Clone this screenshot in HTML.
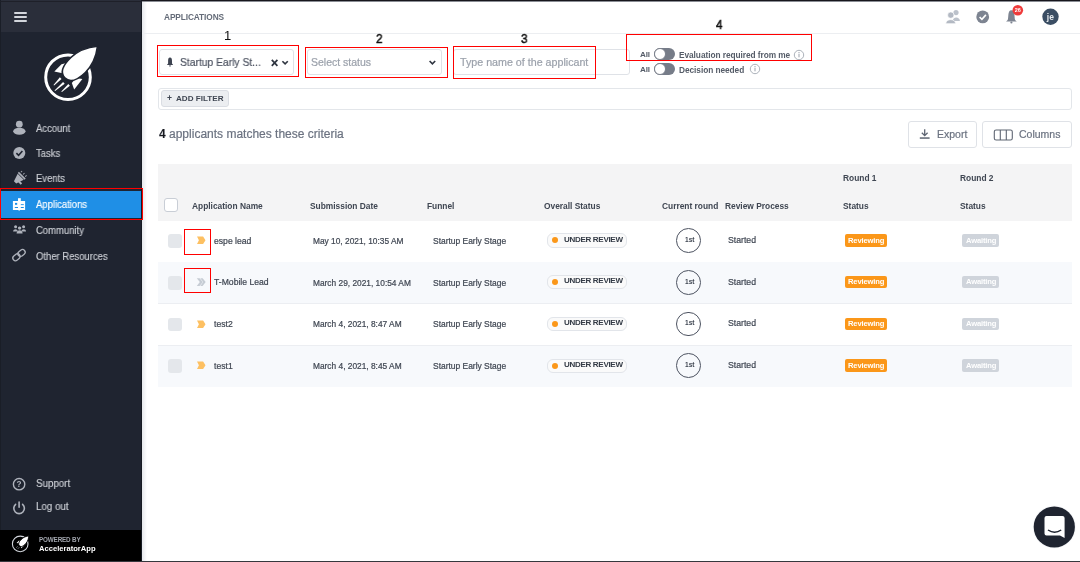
<!DOCTYPE html>
<html><head><meta charset="utf-8"><style>
html,body{margin:0;padding:0;width:1080px;height:562px;overflow:hidden;background:#fff;}
body{position:relative;font-family:"Liberation Sans",sans-serif;}
.t{position:absolute;white-space:nowrap;line-height:1;will-change:transform;}
.r{position:absolute;box-sizing:border-box;}
svg.r{overflow:visible;will-change:transform;}
</style></head><body>
<div class="r" style="left:0px;top:0px;width:142px;height:562px;background:#1f2430;"></div>
<div class="r" style="left:0px;top:0px;width:142px;height:31.5px;background:#2a2e3a;"></div>
<div class="r" style="left:0px;top:0px;width:1px;height:530px;background:#1a1e27;"></div>
<div class="r" style="left:13.5px;top:12px;width:13px;height:2px;background:#d3d6dc;border-radius:1px;"></div>
<div class="r" style="left:13.5px;top:16px;width:13px;height:2px;background:#d3d6dc;border-radius:1px;"></div>
<div class="r" style="left:13.5px;top:20px;width:13px;height:2px;background:#d3d6dc;border-radius:1px;"></div>
<svg class="r" style="left:40px;top:40px" width="64" height="64" viewBox="40 40 64 64">
<circle cx="68" cy="77.2" r="22.3" fill="none" stroke="#fff" stroke-width="3"/>
<path d="M54.3 71.4 L61.5 64.2 L67.5 62.8 L66 74 L62.5 73.3 Z" fill="#fff"/>
<path d="M71.8 82.9 L74.2 89.6 L82.4 79 L76 78 Z" fill="#fff"/>
<g transform="translate(81 62.2) rotate(-44)">
<path d="M-22.5 0 C-22.5 -7.2 -15 -10.4 -4 -10.4 C8 -10.4 16.5 -5.2 23 0 C16.5 5.2 8 10.4 -4 10.4 C-15 10.4 -22.5 7.2 -22.5 0 Z" fill="#fff" stroke="#1f2430" stroke-width="1.6"/>
</g>
<path d="M59.9 77.3 L53.5 84.9 L54.1 85.4 L61.5 78.9 Z" fill="#fff"/>
<path d="M63.1 82.1 L54.5 90.4 L55.1 90.9 L64.7 83.7 Z" fill="#fff"/>
<path d="M68.3 84.1 L61.3 91.6 L61.9 92.1 L69.9 85.7 Z" fill="#fff"/>
</svg>
<div class="r" style="left:1px;top:190.8px;width:140.4px;height:26.8px;background:#1f8fe6;"></div>
<div class="t" style="left:36.00px;top:123.67px;font-size:10.2px;color:#cdd0d6;-webkit-text-stroke:0.15px #cdd0d6;transform:scaleX(0.93);transform-origin:0 0;">Account</div>
<div class="t" style="left:36.00px;top:149.07px;font-size:10.2px;color:#cdd0d6;-webkit-text-stroke:0.15px #cdd0d6;transform:scaleX(0.93);transform-origin:0 0;">Tasks</div>
<div class="t" style="left:36.00px;top:174.17px;font-size:10.2px;color:#cdd0d6;-webkit-text-stroke:0.15px #cdd0d6;transform:scaleX(0.93);transform-origin:0 0;">Events</div>
<div class="t" style="left:36.00px;top:199.77px;font-size:10.2px;color:#ffffff;-webkit-text-stroke:0.15px #ffffff;transform:scaleX(0.93);transform-origin:0 0;">Applications</div>
<div class="t" style="left:36.00px;top:225.67px;font-size:10.2px;color:#cdd0d6;-webkit-text-stroke:0.15px #cdd0d6;transform:scaleX(0.93);transform-origin:0 0;">Community</div>
<div class="t" style="left:36.00px;top:252.07px;font-size:10.2px;color:#cdd0d6;-webkit-text-stroke:0.15px #cdd0d6;transform:scaleX(0.93);transform-origin:0 0;">Other Resources</div>
<svg class="r" style="left:0;top:115px" width="40" height="160" viewBox="0 115 40 160">
<circle cx="19.3" cy="124.2" r="3.4" fill="#aeb2bb"/>
<ellipse cx="19.35" cy="131.3" rx="6.2" ry="3.5" fill="#aeb2bb"/>
<circle cx="19.3" cy="153" r="6" fill="#aeb2bb"/>
<path d="M16.4 153.1 L18.6 155.3 L22.4 151" stroke="#1f2430" stroke-width="1.6" fill="none"/>
<g transform="translate(19.3 178.2) rotate(-45)" fill="#aeb2bb">
<path d="M-6 -1.6 L2 -4.3 L2 4.3 L-6 1.6 Z"/>
<rect x="2.7" y="-4.8" width="1.5" height="9.6"/>
<path d="M-3.6 1.5 L-1.6 1.5 L-1.6 5.6 L-3.6 5.6 Z"/>
<rect x="5.3" y="-3.6" width="1.8" height="0.9"/>
<rect x="5.3" y="-0.45" width="2.1" height="0.9"/>
<rect x="5.3" y="2.7" width="1.8" height="0.9"/>
</g>
<rect x="12.9" y="201" width="12.2" height="9" fill="#fff"/>
<rect x="18" y="198.2" width="2.8" height="2.8" fill="#fff"/>
<rect x="15" y="202.9" width="2.2" height="1.9" fill="#1f8fe6"/>
<rect x="14.8" y="207" width="3.2" height="1" fill="#1f8fe6"/>
<rect x="20.8" y="204.2" width="3" height="0.9" fill="#1f8fe6"/>
<rect x="20.8" y="207" width="3" height="1" fill="#1f8fe6"/>
<rect x="18.7" y="210" width="0.8" height="1" fill="#fff"/>
<circle cx="15.6" cy="226.8" r="1.5" fill="#aeb2bb"/>
<circle cx="23.6" cy="226.8" r="1.5" fill="#aeb2bb"/>
<circle cx="19.6" cy="228.1" r="1.7" fill="#aeb2bb"/>
<path d="M13.1 231.6 C13.1 228.3 17.8 228.3 17.8 231.6 Z M21.4 231.6 C21.4 228.3 26.1 228.3 26.1 231.6 Z" fill="#aeb2bb"/>
<path d="M16.6 233.4 C16.6 229.2 22.6 229.2 22.6 233.4 Z" fill="#aeb2bb"/>
<g transform="translate(19 255.1) rotate(-40)" fill="none" stroke="#aeb2bb" stroke-width="1.3">
<rect x="-7.2" y="-2.7" width="7.8" height="5.4" rx="2.7"/>
<rect x="-0.6" y="-2.7" width="7.8" height="5.4" rx="2.7"/>
</g>
</svg>
<div class="t" style="left:36.00px;top:478.80px;font-size:10.4px;color:#cdd0d6;-webkit-text-stroke:0.15px #cdd0d6;transform:scaleX(0.94);transform-origin:0 0;">Support</div>
<div class="t" style="left:36.00px;top:501.70px;font-size:10.4px;color:#cdd0d6;-webkit-text-stroke:0.15px #cdd0d6;transform:scaleX(0.94);transform-origin:0 0;">Log out</div>
<svg class="r" style="left:0;top:470px" width="40" height="50" viewBox="0 470 40 50">
<circle cx="19.1" cy="484.2" r="5.7" fill="none" stroke="#aeb2bb" stroke-width="1.4"/>
<text x="19.1" y="487.3" font-family="Liberation Sans" font-size="8.2" font-weight="700" fill="#aeb2bb" text-anchor="middle">?</text>
<path d="M15.6 504.3 A5.3 5.3 0 1 0 22.6 504.3" fill="none" stroke="#aeb2bb" stroke-width="1.6" stroke-linecap="round"/>
<path d="M19.1 502 L19.1 507.2" stroke="#aeb2bb" stroke-width="1.6" stroke-linecap="round"/>
</svg>
<div class="r" style="left:0px;top:529.7px;width:142px;height:31px;background:#000;"></div>
<svg class="r" style="left:8px;top:532px" width="26" height="24" viewBox="8 532 26 24">
<circle cx="20.2" cy="543.9" r="7.8" fill="none" stroke="#d3d6dc" stroke-width="1.1"/>
<path d="M16.6 542.9 L19.3 540.3 L19.8 543.6 Z" fill="#fff"/>
<path d="M21.2 548.3 L24.2 545.6 L20.9 545.2 Z" fill="#fff"/>
<g transform="translate(24.1 540.9) rotate(-47) scale(0.3)">
<path d="M-22.5 0 C-22.5 -7.2 -15 -10.4 -4 -10.4 C8 -10.4 16.5 -5.2 23 0 C16.5 5.2 8 10.4 -4 10.4 C-15 10.4 -22.5 7.2 -22.5 0 Z" fill="#fff" stroke="#000" stroke-width="3"/>
</g>
<path d="M17.5 546.4 L16.4 547.6 M19.2 547.4 L17.9 548.7" stroke="#aeb2b9" stroke-width="0.8"/>
</svg>
<div class="t" style="left:39.30px;top:536.97px;font-size:6.3px;color:#a0a4ac;font-weight:700;letter-spacing:-0.15px;">POWERED BY</div>
<div class="t" style="left:39.30px;top:545.37px;font-size:7.6px;color:#ffffff;font-weight:700;">AcceleratorApp</div>
<div class="r" style="left:141.4px;top:0px;width:0.8px;height:562px;background:#161a22;"></div>
<div class="r" style="left:142.2px;top:2px;width:937.8px;height:560px;background:#fff;"></div>
<div class="r" style="left:142.2px;top:2px;width:5px;height:560px;background:linear-gradient(90deg,#e6e8ec,#fff);"></div>
<div class="r" style="left:0px;top:1px;width:142px;height:1px;background:#1e2029;"></div>
<div class="r" style="left:142px;top:0px;width:938px;height:1px;background:#17161d;"></div>
<div class="r" style="left:142px;top:1px;width:938px;height:1px;background:#8a8d94;"></div>
<div class="r" style="left:142.2px;top:32.6px;width:937.8px;height:1px;background:#eceef1;"></div>
<div class="t" style="left:163.60px;top:12.57px;font-size:8.3px;color:#646b78;font-weight:700;letter-spacing:-0.1px;">APPLICATIONS</div>
<svg class="r" style="left:940px;top:2px" width="130" height="30" viewBox="940 2 130 30">
<circle cx="956" cy="12.6" r="2.6" fill="#bcc2cb"/>
<path d="M952.6 20.9 C952.6 16.2 959.9 16.2 959.9 20.9 Z" fill="#bcc2cb"/>
<circle cx="950.8" cy="15.1" r="3.2" fill="#b3b9c3" stroke="#fff" stroke-width="0.7"/>
<path d="M945.8 23.7 C945.8 18.3 955.6 18.3 955.6 23.7 Z" fill="#b3b9c3" stroke="#fff" stroke-width="0.7"/>
<circle cx="982.7" cy="16.9" r="6.4" fill="#7d8491"/>
<path d="M979.6 17 L981.9 19.3 L985.9 14.9" stroke="#fff" stroke-width="1.6" fill="none"/>
<path d="M1011.4 10.2 C1009.3 10.2 1008.6 12.2 1008.4 14.6 L1008 19 C1007.8 20.3 1006.9 20.9 1006 21.6 L1016.8 21.6 C1015.9 20.9 1015 20.3 1014.8 19 L1014.4 14.6 C1014.2 12.2 1013.5 10.2 1011.4 10.2 Z" fill="#7d8491"/>
<circle cx="1011.4" cy="22.5" r="1.1" fill="#7d8491"/>
<circle cx="1017.8" cy="10.2" r="5.3" fill="#ef3b3b"/>
<text x="1017.8" y="12.3" font-family="Liberation Sans" font-size="5.5" font-weight="700" fill="#fff" text-anchor="middle">26</text>
<circle cx="1050.5" cy="16.7" r="8.2" fill="#3b4e64"/>
<text x="1050.4" y="19.8" font-family="Liberation Sans" font-size="8.5" font-weight="700" fill="#e8ecf0" text-anchor="middle">je</text>
</svg>
<div class="r" style="left:158.7px;top:48.8px;width:135px;height:26.4px;border:1px solid #dfe2e7;border-radius:3px;background:#fff;"></div>
<div class="r" style="left:306.9px;top:49.4px;width:134.8px;height:26px;border:1px solid #dfe2e7;border-radius:3px;background:#fff;"></div>
<div class="r" style="left:453px;top:49px;width:176.8px;height:26.3px;border:1px solid #dfe2e7;border-radius:3px;background:#fff;"></div>
<div class="t" style="left:180.00px;top:57.39px;font-size:11px;color:#4d5361;-webkit-text-stroke:0.2px #4d5361;transform:scaleX(0.937);transform-origin:0 0;">Startup Early St...</div>
<div class="t" style="left:310.60px;top:56.81px;font-size:10.5px;color:#9ba1ab;-webkit-text-stroke:0.2px #9ba1ab;">Select status</div>
<div class="t" style="left:459.80px;top:57.04px;font-size:10.7px;color:#9ba1ab;-webkit-text-stroke:0.2px #9ba1ab;">Type name of the applicant</div>
<svg class="r" style="left:160px;top:50px" width="290" height="24" viewBox="160 50 290 24">
<path d="M170 57.6 C168.4 57.6 168.1 59.3 168.1 61 L168.1 63.6 L166.9 64.9 L173.2 64.9 L172 63.6 L172 61 C172 59.3 171.6 57.6 170 57.6 Z" fill="#3d4350"/>
<rect x="169.3" y="65.3" width="1.4" height="1.2" fill="#3d4350"/>
<path d="M271.8 59.8 L277.4 65.8 M277.4 59.8 L271.8 65.8" stroke="#2f3540" stroke-width="1.7"/>
<path d="M282.4 61.2 L285.1 63.9 L287.8 61.2" stroke="#2f3540" stroke-width="1.6" fill="none"/>
<path d="M429.6 61 L432.4 63.8 L435.2 61" stroke="#2f3540" stroke-width="1.6" fill="none"/>
</svg>
<div class="t" style="left:640.40px;top:51.44px;font-size:8.1px;color:#555c68;font-weight:700;letter-spacing:-0.2px;">All</div>
<div class="r" style="left:654.3px;top:48.3px;width:20.4px;height:11.8px;background:#767c88;border-radius:6px;"></div>
<div class="r" style="left:654.3px;top:48.3px;width:11.8px;height:11.8px;background:#fff;border:1px solid #767c88;border-radius:50%;"></div>
<div class="t" style="left:679.30px;top:51.27px;font-size:8.3px;color:#555c68;font-weight:700;letter-spacing:-0.05px;">Evaluation required from me</div>
<svg class="r" style="left:793.3px;top:48.8px" width="12" height="12" viewBox="-6 -6 12 12"><circle r="4.7" fill="none" stroke="#a3a9b2" stroke-width="0.9"/><rect x="-0.5" y="-1.3" width="1" height="3.6" fill="#9ba1ab"/><rect x="-0.5" y="-3" width="1" height="1" fill="#9ba1ab"/></svg>
<div class="t" style="left:640.40px;top:65.84px;font-size:8.1px;color:#555c68;font-weight:700;letter-spacing:-0.2px;">All</div>
<div class="r" style="left:654.3px;top:63.1px;width:20.4px;height:11.8px;background:#767c88;border-radius:6px;"></div>
<div class="r" style="left:654.3px;top:63.1px;width:11.8px;height:11.8px;background:#fff;border:1px solid #767c88;border-radius:50%;"></div>
<div class="t" style="left:679.30px;top:65.67px;font-size:8.3px;color:#555c68;font-weight:700;letter-spacing:-0.05px;">Decision needed</div>
<svg class="r" style="left:749.2px;top:63.2px" width="12" height="12" viewBox="-6 -6 12 12"><circle r="4.7" fill="none" stroke="#a3a9b2" stroke-width="0.9"/><rect x="-0.5" y="-1.3" width="1" height="3.6" fill="#9ba1ab"/><rect x="-0.5" y="-3" width="1" height="1" fill="#9ba1ab"/></svg>
<div class="r" style="left:158.1px;top:87.7px;width:913.6px;height:22px;border:1px solid #e3e6ea;border-radius:3px;"></div>
<div class="r" style="left:161px;top:90.4px;width:67.5px;height:16.3px;background:#eceef1;border:1px solid #dadde3;border-radius:3px;"></div>
<div class="t" style="left:166.60px;top:94.40px;font-size:8.5px;color:#3f4652;font-weight:700;">+</div>
<div class="t" style="left:175.90px;top:94.74px;font-size:8.1px;color:#3f4652;font-weight:700;">ADD FILTER</div>
<div class="t" style="left:158.80px;top:128.24px;font-size:12px;color:#6b7280;-webkit-text-stroke:0.2px #6b7280;"><b style="color:#15171c">4</b> applicants matches these criteria</div>
<div class="r" style="left:908.3px;top:121.3px;width:68.4px;height:26.7px;border:1px solid #dfe2e7;border-radius:3px;"></div>
<div class="r" style="left:982px;top:121.3px;width:89.7px;height:26.7px;border:1px solid #dfe2e7;border-radius:3px;"></div>
<div class="t" style="left:936.70px;top:129.11px;font-size:10.5px;color:#6b7280;-webkit-text-stroke:0.2px #6b7280;">Export</div>
<div class="t" style="left:1018.70px;top:129.11px;font-size:10.5px;color:#6b7280;-webkit-text-stroke:0.2px #6b7280;">Columns</div>
<svg class="r" style="left:915px;top:125px" width="100" height="20" viewBox="915 125 100 20">
<path d="M924.7 129.2 L924.7 135.5 M921.8 132.8 L924.7 135.7 L927.6 132.8" stroke="#5f6673" stroke-width="1.3" fill="none"/>
<rect x="919.8" y="137.3" width="9.8" height="1.5" fill="#5f6673"/>
<rect x="994.3" y="130" width="18" height="10" rx="1.8" fill="none" stroke="#5f6673" stroke-width="1.1"/>
<path d="M1000.3 130 L1000.3 140 M1006.3 130 L1006.3 140" stroke="#5f6673" stroke-width="1.1"/>
</svg>
<div class="r" style="left:157.8px;top:163.6px;width:914.2px;height:57px;background:#f4f4f5;"></div>
<div class="r" style="left:163.9px;top:198px;width:14px;height:13.5px;background:#fff;border:1px solid #c9ced6;border-radius:3px;"></div>
<div class="t" style="left:192.20px;top:201.59px;font-size:8.4px;color:#3f4652;font-weight:700;">Application Name</div>
<div class="t" style="left:309.60px;top:201.59px;font-size:8.4px;color:#3f4652;font-weight:700;">Submission Date</div>
<div class="t" style="left:427.00px;top:201.59px;font-size:8.4px;color:#3f4652;font-weight:700;">Funnel</div>
<div class="t" style="left:544.40px;top:201.59px;font-size:8.4px;color:#3f4652;font-weight:700;">Overall Status</div>
<div class="t" style="left:662.00px;top:201.59px;font-size:8.4px;color:#3f4652;font-weight:700;">Current round</div>
<div class="t" style="left:724.80px;top:201.59px;font-size:8.4px;color:#3f4652;font-weight:700;">Review Process</div>
<div class="t" style="left:842.70px;top:201.59px;font-size:8.4px;color:#3f4652;font-weight:700;">Status</div>
<div class="t" style="left:959.70px;top:201.59px;font-size:8.4px;color:#3f4652;font-weight:700;">Status</div>
<div class="t" style="left:842.70px;top:173.79px;font-size:8.4px;color:#3f4652;font-weight:700;">Round 1</div>
<div class="t" style="left:959.70px;top:173.79px;font-size:8.4px;color:#3f4652;font-weight:700;">Round 2</div>
<div class="r" style="left:157.8px;top:261.7px;width:914.2px;height:1px;background:#eceef2;"></div>
<div class="r" style="left:168.1px;top:234.2px;width:13.8px;height:13.8px;background:#e4e7eb;border-radius:3px;"></div>
<svg class="r" style="left:196px;top:236.10px" width="10" height="9" viewBox="196 0 10 9"><path d="M197 0.4 L203.1 0.4 L205.5 4.2 L203.1 8 L197 8 L198.9 4.2 Z" fill="#fdc062"/></svg>
<div class="t" style="left:213.50px;top:236.78px;font-size:8.65px;color:#3f4652;-webkit-text-stroke:0.2px #3f4652;">espe lead</div>
<div class="t" style="left:312.60px;top:237.03px;font-size:8.35px;color:#3f4652;-webkit-text-stroke:0.2px #3f4652;">May 10, 2021, 10:35 AM</div>
<div class="t" style="left:432.90px;top:236.95px;font-size:8.45px;color:#3f4652;-webkit-text-stroke:0.2px #3f4652;">Startup Early Stage</div>
<div class="r" style="left:547.2px;top:233.4px;width:80.3px;height:14.2px;background:#fafafa;border:1px solid #e2e5ea;border-radius:6px;"></div>
<div class="r" style="left:552.1px;top:237.4px;width:6px;height:6px;background:#fb9719;border-radius:50%;"></div>
<div class="t" style="left:563.90px;top:235.73px;font-size:8px;color:#333a45;font-weight:700;letter-spacing:-0.3px;">UNDER REVIEW</div>
<div class="r" style="left:676.3px;top:228.2px;width:24.9px;height:24.9px;border:1.2px solid #4d5361;border-radius:50%;"></div>
<div class="t" style="left:684.60px;top:236.81px;font-size:6.6px;color:#3f4652;font-weight:700;">1st</div>
<div class="t" style="left:727.70px;top:235.84px;font-size:8.7px;color:#3f4652;-webkit-text-stroke:0.2px #3f4652;">Started</div>
<div class="r" style="left:845px;top:234.29999999999998px;width:42.3px;height:12.3px;background:#fb9719;border-radius:2px;"></div>
<div class="t" style="left:848.20px;top:236.67px;font-size:7.6px;color:#fff;font-weight:700;letter-spacing:-0.15px;">Reviewing</div>
<div class="r" style="left:962.3px;top:234.29999999999998px;width:36.8px;height:12.3px;background:#cfd4db;border-radius:2px;"></div>
<div class="t" style="left:965.50px;top:236.67px;font-size:7.6px;color:#fff;font-weight:700;letter-spacing:-0.15px;">Awaiting</div>
<div class="r" style="left:157.8px;top:262.3px;width:914.2px;height:41.7px;background:#f7f9fc;"></div>
<div class="r" style="left:157.8px;top:303.4px;width:914.2px;height:1px;background:#eceef2;"></div>
<div class="r" style="left:168.1px;top:275.90000000000003px;width:13.8px;height:13.8px;background:#e4e7eb;border-radius:3px;"></div>
<svg class="r" style="left:196px;top:278.20px" width="10" height="9" viewBox="0 0 10 9"><path d="M0.8 0.3 L3.6 0.3 L6.8 4.1 L3.6 7.9 L0.8 7.9 L3.8 4.1 Z M4.3 0.3 L6.6 0.3 L9.7 4.1 L6.6 7.9 L4.3 7.9 L7.2 4.1 Z" fill="#c6ccd4"/></svg>
<div class="t" style="left:213.50px;top:278.48px;font-size:8.65px;color:#3f4652;-webkit-text-stroke:0.2px #3f4652;">T-Mobile Lead</div>
<div class="t" style="left:312.60px;top:278.73px;font-size:8.35px;color:#3f4652;-webkit-text-stroke:0.2px #3f4652;">March 29, 2021, 10:54 AM</div>
<div class="t" style="left:432.90px;top:278.65px;font-size:8.45px;color:#3f4652;-webkit-text-stroke:0.2px #3f4652;">Startup Early Stage</div>
<div class="r" style="left:547.2px;top:275.1px;width:80.3px;height:14.2px;background:#fafafa;border:1px solid #e2e5ea;border-radius:6px;"></div>
<div class="r" style="left:552.1px;top:279.1px;width:6px;height:6px;background:#fb9719;border-radius:50%;"></div>
<div class="t" style="left:563.90px;top:277.43px;font-size:8px;color:#333a45;font-weight:700;letter-spacing:-0.3px;">UNDER REVIEW</div>
<div class="r" style="left:676.3px;top:269.90000000000003px;width:24.9px;height:24.9px;border:1.2px solid #4d5361;border-radius:50%;"></div>
<div class="t" style="left:684.60px;top:278.51px;font-size:6.6px;color:#3f4652;font-weight:700;">1st</div>
<div class="t" style="left:727.70px;top:277.54px;font-size:8.7px;color:#3f4652;-webkit-text-stroke:0.2px #3f4652;">Started</div>
<div class="r" style="left:845px;top:276.0px;width:42.3px;height:12.3px;background:#fb9719;border-radius:2px;"></div>
<div class="t" style="left:848.20px;top:278.37px;font-size:7.6px;color:#fff;font-weight:700;letter-spacing:-0.15px;">Reviewing</div>
<div class="r" style="left:962.3px;top:276.0px;width:36.8px;height:12.3px;background:#cfd4db;border-radius:2px;"></div>
<div class="t" style="left:965.50px;top:278.37px;font-size:7.6px;color:#fff;font-weight:700;letter-spacing:-0.15px;">Awaiting</div>
<div class="r" style="left:157.8px;top:345.09999999999997px;width:914.2px;height:1px;background:#eceef2;"></div>
<div class="r" style="left:168.1px;top:317.6px;width:13.8px;height:13.8px;background:#e4e7eb;border-radius:3px;"></div>
<svg class="r" style="left:196px;top:319.50px" width="10" height="9" viewBox="196 0 10 9"><path d="M197 0.4 L203.1 0.4 L205.5 4.2 L203.1 8 L197 8 L198.9 4.2 Z" fill="#fdc062"/></svg>
<div class="t" style="left:213.50px;top:320.18px;font-size:8.65px;color:#3f4652;-webkit-text-stroke:0.2px #3f4652;">test2</div>
<div class="t" style="left:312.60px;top:320.43px;font-size:8.35px;color:#3f4652;-webkit-text-stroke:0.2px #3f4652;">March 4, 2021, 8:47 AM</div>
<div class="t" style="left:432.90px;top:320.35px;font-size:8.45px;color:#3f4652;-webkit-text-stroke:0.2px #3f4652;">Startup Early Stage</div>
<div class="r" style="left:547.2px;top:316.8px;width:80.3px;height:14.2px;background:#fafafa;border:1px solid #e2e5ea;border-radius:6px;"></div>
<div class="r" style="left:552.1px;top:320.8px;width:6px;height:6px;background:#fb9719;border-radius:50%;"></div>
<div class="t" style="left:563.90px;top:319.13px;font-size:8px;color:#333a45;font-weight:700;letter-spacing:-0.3px;">UNDER REVIEW</div>
<div class="r" style="left:676.3px;top:311.6px;width:24.9px;height:24.9px;border:1.2px solid #4d5361;border-radius:50%;"></div>
<div class="t" style="left:684.60px;top:320.21px;font-size:6.6px;color:#3f4652;font-weight:700;">1st</div>
<div class="t" style="left:727.70px;top:319.24px;font-size:8.7px;color:#3f4652;-webkit-text-stroke:0.2px #3f4652;">Started</div>
<div class="r" style="left:845px;top:317.7px;width:42.3px;height:12.3px;background:#fb9719;border-radius:2px;"></div>
<div class="t" style="left:848.20px;top:320.07px;font-size:7.6px;color:#fff;font-weight:700;letter-spacing:-0.15px;">Reviewing</div>
<div class="r" style="left:962.3px;top:317.7px;width:36.8px;height:12.3px;background:#cfd4db;border-radius:2px;"></div>
<div class="t" style="left:965.50px;top:320.07px;font-size:7.6px;color:#fff;font-weight:700;letter-spacing:-0.15px;">Awaiting</div>
<div class="r" style="left:157.8px;top:345.7px;width:914.2px;height:41.7px;background:#f7f9fc;"></div>
<div class="r" style="left:168.1px;top:359.3px;width:13.8px;height:13.8px;background:#e4e7eb;border-radius:3px;"></div>
<svg class="r" style="left:196px;top:361.20px" width="10" height="9" viewBox="196 0 10 9"><path d="M197 0.4 L203.1 0.4 L205.5 4.2 L203.1 8 L197 8 L198.9 4.2 Z" fill="#fdc062"/></svg>
<div class="t" style="left:213.50px;top:361.88px;font-size:8.65px;color:#3f4652;-webkit-text-stroke:0.2px #3f4652;">test1</div>
<div class="t" style="left:312.60px;top:362.13px;font-size:8.35px;color:#3f4652;-webkit-text-stroke:0.2px #3f4652;">March 4, 2021, 8:45 AM</div>
<div class="t" style="left:432.90px;top:362.05px;font-size:8.45px;color:#3f4652;-webkit-text-stroke:0.2px #3f4652;">Startup Early Stage</div>
<div class="r" style="left:547.2px;top:358.5px;width:80.3px;height:14.2px;background:#fafafa;border:1px solid #e2e5ea;border-radius:6px;"></div>
<div class="r" style="left:552.1px;top:362.5px;width:6px;height:6px;background:#fb9719;border-radius:50%;"></div>
<div class="t" style="left:563.90px;top:360.83px;font-size:8px;color:#333a45;font-weight:700;letter-spacing:-0.3px;">UNDER REVIEW</div>
<div class="r" style="left:676.3px;top:353.3px;width:24.9px;height:24.9px;border:1.2px solid #4d5361;border-radius:50%;"></div>
<div class="t" style="left:684.60px;top:361.91px;font-size:6.6px;color:#3f4652;font-weight:700;">1st</div>
<div class="t" style="left:727.70px;top:360.94px;font-size:8.7px;color:#3f4652;-webkit-text-stroke:0.2px #3f4652;">Started</div>
<div class="r" style="left:845px;top:359.4px;width:42.3px;height:12.3px;background:#fb9719;border-radius:2px;"></div>
<div class="t" style="left:848.20px;top:361.77px;font-size:7.6px;color:#fff;font-weight:700;letter-spacing:-0.15px;">Reviewing</div>
<div class="r" style="left:962.3px;top:359.4px;width:36.8px;height:12.3px;background:#cfd4db;border-radius:2px;"></div>
<div class="t" style="left:965.50px;top:361.77px;font-size:7.6px;color:#fff;font-weight:700;letter-spacing:-0.15px;">Awaiting</div>
<svg class="r" style="left:1028px;top:500px" width="52" height="54" viewBox="1028 500 52 54">
<circle cx="1054.3" cy="527" r="21.5" fill="#eef0f3" opacity="0.6"/>
<circle cx="1054.3" cy="527" r="20.6" fill="#1f2430"/>
<path d="M1046.5 516 L1062.5 516 Q1064.6 516 1064.6 518.1 L1064.6 538 L1060 535.6 L1046.5 535.6 Q1044.5 535.6 1044.5 533.5 L1044.5 518.1 Q1044.5 516 1046.5 516 Z" fill="#fff"/>
<path d="M1048 530 Q1054.6 534.6 1061.2 530" stroke="#1f2430" stroke-width="1.5" fill="none"/>
</svg>
<div class="r" style="left:157px;top:45.2px;width:142.3px;height:31.8px;border:1.5px solid #ff0000;"></div>
<div class="r" style="left:305.4px;top:46.5px;width:142.2px;height:31.8px;border:1.5px solid #ff0000;"></div>
<div class="r" style="left:452.8px;top:46.3px;width:143.5px;height:32.6px;border:1.6px solid #ff0000;"></div>
<div class="r" style="left:625.9px;top:34px;width:185.9px;height:27.3px;border:1.8px solid #ff0000;"></div>
<div class="r" style="left:0px;top:188px;width:142.8px;height:32px;border:1.5px solid #ff0000;"></div>
<div class="r" style="left:184px;top:229px;width:27.1px;height:26.2px;border:1.4px solid #ff0000;"></div>
<div class="r" style="left:184px;top:268px;width:27.1px;height:25.2px;border:1.4px solid #ff0000;"></div>
<div class="t" style="left:224.20px;top:28.90px;font-size:13px;color:#111;font-family:"Liberation Mono";-webkit-text-stroke:0.6px #111;">1</div>
<div class="t" style="left:376.30px;top:31.80px;font-size:13px;color:#111;-webkit-text-stroke:0.55px #111;transform:scaleX(0.9);transform-origin:0 0;">2</div>
<div class="t" style="left:520.90px;top:31.80px;font-size:13px;color:#111;-webkit-text-stroke:0.55px #111;transform:scaleX(0.9);transform-origin:0 0;">3</div>
<div class="t" style="left:715.70px;top:18.40px;font-size:13px;color:#111;-webkit-text-stroke:0.55px #111;transform:scaleX(0.9);transform-origin:0 0;">4</div>
<div class="r" style="left:0px;top:561px;width:1080px;height:1px;background:#36383e;"></div>
</body></html>
